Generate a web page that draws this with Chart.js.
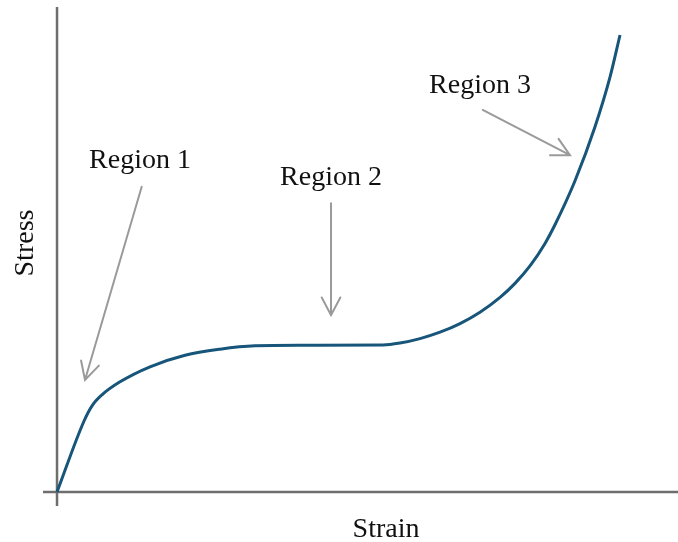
<!DOCTYPE html>
<html>
<head>
<meta charset="utf-8">
<title>Stress vs Strain</title>
<script src="https://cdn.jsdelivr.net/npm/chart.js@4/dist/chart.umd.min.js"></script>
<style>
  html, body { margin: 0; padding: 0; background: #fff; }
  canvas { display: block; }
</style>
</head>
<body>
<canvas id="stressChart" width="678" height="542"></canvas>
<script>
'use strict';

// curve (strain, stress in arbitrary units 0..100)
const strain = [0, 4.8, 6.22, 7.99, 11.19, 16.52, 22.74, 28.95, 35.17, 43.16, 57.9,
    60.92, 64.48, 68.03, 71.58, 75.13, 78.69, 81.35, 84.01, 86.68, 88.45, 92.01, 95.56, 98.22, 100];
const stress = [0, 15.54, 18.86, 21.27, 24.11, 27.4, 29.93, 31.25, 31.99, 32.12, 32.17,
    32.6, 33.57, 34.97, 36.85, 39.34, 42.58, 45.65, 49.47, 54.4, 58.49, 68.12, 79.93, 90.77, 100];

// region labels and the arrows pointing at the curve
const regionLabels = ['Region 1', 'Region 2', 'Region 3'];
const labelAt = [[14.74, 70.9], [48.67, 67.2], [75.13, 87.3]];
const arrowFrom = [[15.04, 66.8], [48.67, 63.2], [75.61, 83.6]];
const arrowTo = [[4.97, 24.5], [48.67, 38.7], [91.12, 73.7]];

const curveColor = '#17557a';
const axisColor = '#6e6e6e';
const arrowColor = '#9a9a9a';
const textFont = '28px "Liberation Serif", "Times New Roman", serif';

const points = strain.map((s, i) => ({ x: s, y: stress[i] }));

const axesPlugin = {
    id: 'axesPlugin',
    beforeDatasetsDraw(chart) {
        const { ctx, chartArea, scales } = chart;
        const x0 = scales.x.getPixelForValue(0);
        const y0 = scales.y.getPixelForValue(0);
        ctx.save();
        ctx.strokeStyle = axisColor;
        ctx.lineWidth = 2.5;
        ctx.beginPath();
        ctx.moveTo(x0, chartArea.top);
        ctx.lineTo(x0, chartArea.bottom);
        ctx.moveTo(chartArea.left, y0);
        ctx.lineTo(chartArea.right, y0);
        ctx.stroke();
        ctx.restore();
    },
    afterDatasetsDraw(chart) {
        const { ctx, scales } = chart;
        const px = v => scales.x.getPixelForValue(v);
        const py = v => scales.y.getPixelForValue(v);

        ctx.save();
        // arrows
        ctx.strokeStyle = arrowColor;
        ctx.lineWidth = 2;
        ctx.lineCap = 'round';
        arrowFrom.forEach((from, i) => {
            const x1 = px(from[0]), y1 = py(from[1]);
            const x2 = px(arrowTo[i][0]), y2 = py(arrowTo[i][1]);
            const ang = Math.atan2(y2 - y1, x2 - x1);
            const head = 20, spread = Math.PI / 6.5;
            ctx.beginPath();
            ctx.moveTo(x1, y1);
            ctx.lineTo(x2, y2);
            ctx.moveTo(x2 - head * Math.cos(ang - spread), y2 - head * Math.sin(ang - spread));
            ctx.lineTo(x2, y2);
            ctx.lineTo(x2 - head * Math.cos(ang + spread), y2 - head * Math.sin(ang + spread));
            ctx.stroke();
        });

        // labels
        ctx.fillStyle = '#111';
        ctx.font = textFont;
        ctx.textAlign = 'center';
        ctx.textBaseline = 'alphabetic';
        regionLabels.forEach((label, i) => {
            ctx.fillText(label, px(labelAt[i][0]), py(labelAt[i][1]));
        });

        // axis titles
        ctx.fillText('Strain', 386, 537);
        ctx.translate(33, 243);
        ctx.rotate(-Math.PI / 2);
        ctx.fillText('Stress', 0, 0);
        ctx.restore();
    }
};

new Chart(document.getElementById('stressChart').getContext('2d'), {
    type: 'scatter',
    data: {
        datasets: [{
            label: 'Stress',
            data: points,
            showLine: true,
            borderColor: curveColor,
            borderWidth: 3,
            pointRadius: 0,
            cubicInterpolationMode: 'monotone',
            fill: false
        }]
    },
    options: {
        responsive: false,
        animation: false,
        devicePixelRatio: 1,
        layout: { padding: { left: 43, top: 7, right: 0, bottom: 36 } },
        plugins: {
            legend: { display: false },
            tooltip: { enabled: false }
        },
        scales: {
            x: { type: 'linear', display: false, min: -2.49, max: 110.3 },
            y: { type: 'linear', display: false, min: -3.06, max: 106.13 }
        }
    },
    plugins: [axesPlugin]
});
</script>
</body>
</html>
